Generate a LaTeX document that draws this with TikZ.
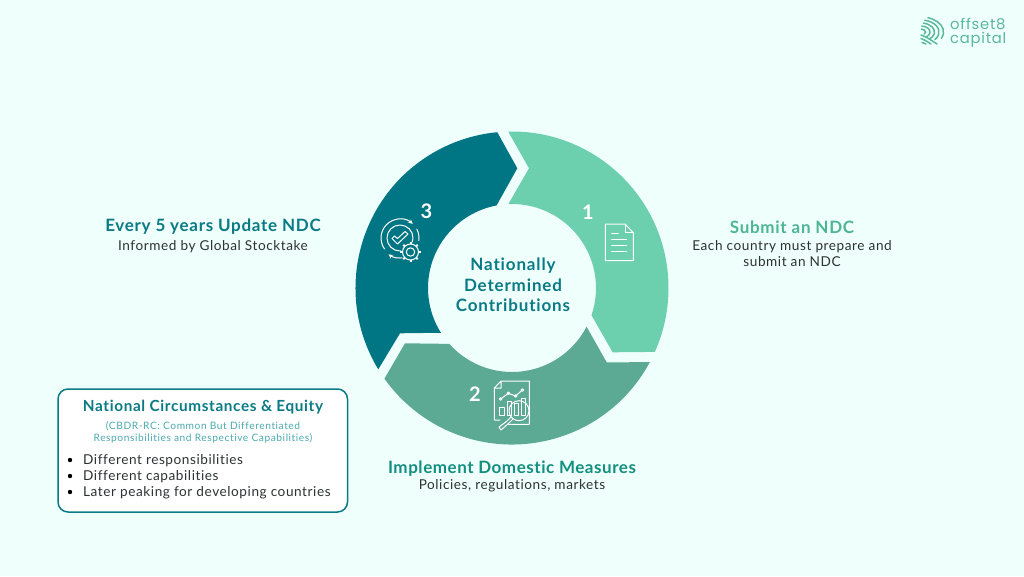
\documentclass[tikz,border=0pt]{standalone}
\usepackage{fontspec}
\setmainfont{Lato}
\newfontfamily\headfont[LetterSpace=4.2,Ligatures=NoCommon]{Lato}
\newfontfamily\implfont[LetterSpace=3.2,Ligatures=NoCommon]{Lato}
\newfontfamily\bodyfont[LetterSpace=4.2,Ligatures=NoCommon]{Lato}
\newfontfamily\ctrfont[LetterSpace=5.0,Ligatures=NoCommon]{Lato}
\newfontfamily\smallfont[LetterSpace=5.5,Ligatures=NoCommon]{Lato}
\newfontfamily\logofont[LetterSpace=5]{Poppins}
\definecolor{bgc}{RGB}{239,255,252}
\definecolor{darkteal}{RGB}{0,118,132}
\definecolor{lightgreen}{RGB}{108,207,173}
\definecolor{midgreen}{RGB}{92,169,148}
\definecolor{ttl}{RGB}{10,122,133}
\definecolor{subgreen}{RGB}{77,181,149}
\definecolor{impl}{RGB}{19,143,128}
\definecolor{bodyc}{RGB}{45,50,50}
\definecolor{cbdr}{RGB}{76,170,175}
\definecolor{logoc}{RGB}{90,184,156}
\tikzset{
  seg/.style={draw=none},
  icon/.style={draw=white,line width=1pt,fill=none,line join=round,line cap=round},
  head/.style={font=\headfont\fontsize{17}{20}\selectfont\bfseries,inner sep=0pt,anchor=center},
  bodytxt/.style={font=\bodyfont\fontsize{13.6}{16}\selectfont,text=bodyc,inner sep=0pt,anchor=center,align=center},
  num/.style={font=\fontsize{20}{20}\selectfont\bfseries,text=white,inner sep=0pt},
  logotxt/.style={font=\logofont\fontsize{14.8}{15}\selectfont,text=logoc,inner sep=0pt,anchor=base west},
  logoarc/.style={draw=logoc,line width=1.5pt,line cap=round},
}
\begin{document}
\begin{tikzpicture}[x=1pt,y=1pt]
\useasboundingbox (0,0) rectangle (1024,-576);
\fill[bgc] (0,0) rectangle (1024,-576);
% ring
\begin{scope}[shift={(512,-288)}]
\fill[darkteal,seg] (211.3:156.5) arc[start angle=211.3,end angle=95.4,radius=156.5pt] -- (5.3,119.7) -- (100.6:84) arc[start angle=100.6,end angle=212.2,radius=84pt] -- (-112,-45.3) -- cycle;
\fill[lightgreen,seg] (91.4:156.5) arc[start angle=91.4,end angle=-24.1,radius=156.5pt] -- (100.7,-64.3) -- (-18.9:84) arc[start angle=-18.9,end angle=92.5,radius=84pt] -- (17,119.7) -- cycle;
\fill[midgreen,seg] (-28.3:156.5) arc[start angle=-28.3,end angle=-144.6,radius=156.5pt] -- (-107,-55.3) -- (221.7:84) arc[start angle=221.7,end angle=332.6,radius=84pt] -- (94.7,-74.3) -- cycle;
\end{scope}
% centre
\node[font=\ctrfont\fontsize{17}{20.5}\selectfont\bfseries,text=ttl,align=center,inner sep=0pt] (centre) at (513,-285) {Nationally\\Determined\\Contributions};
% numbers
\node[num] (n3) at (426.5,-211) {3};
\node[num] (n1) at (588,-212) {1};
\node[num] (n2) at (475,-394) {2};
% doc icon
\draw[icon] (605.3,-224) -- (625,-224) -- (633.3,-232.7) -- (633.3,-260.7) -- (605.3,-260.7) -- cycle;
\draw[icon] (625,-224) -- (625,-232.7) -- (633.3,-232.7);
\draw[icon] (611.7,-233.3) -- (618.3,-233.3) (611.7,-239.3) -- (626.7,-239.3) (611.7,-245.3) -- (626.7,-245.3) (611.7,-251) -- (626.7,-251);
% gear check icon
\draw[icon] (400,-238) circle[radius=13pt];
\draw[icon] (392,-238.5) -- (397.5,-244) -- (408,-234) -- (405,-231.5) -- (397.5,-238.5) -- (394.5,-236) -- cycle;
\draw[icon,-stealth] (400,-238) ++(215:19) arc[start angle=215,end angle=48,radius=19pt];
\draw[icon] (400,-238) ++(28:19) arc[start angle=28,end angle=-8,radius=19pt];
\draw[icon,-stealth] (400,-238) ++(-78:20) arc[start angle=-78,end angle=-125,radius=20pt];
\fill[darkteal] (410.5,-252) circle[radius=10pt];
\draw[icon] (410.5,-252) circle[radius=4.2pt];
\draw[icon] (410.5,-252) circle[radius=8pt];
\foreach \a in {0,45,...,315} \draw[icon,line width=2pt,line cap=butt] (410.5,-252) ++(\a:8) -- ++(\a:2.2);
% chart icon
\draw[icon] (501,-381) -- (529.3,-381) -- (529.3,-424.3) -- (508,-424.3) (500,-420) -- (494.3,-420) -- (494.3,-388) -- (501,-381) -- (501,-388) -- (494.3,-388);
\draw[icon] (500.7,-399) -- (508.3,-393.3) -- (515.7,-396) -- (522.3,-390);
\draw[icon] (500.7,-399) circle[radius=1.3pt] (508.3,-393.3) circle[radius=1.3pt] (515.7,-396) circle[radius=1.3pt] (522.3,-390) circle[radius=1.3pt];
\draw[icon] (499.5,-407) rectangle (504,-415);
\draw[icon] (507,-401) rectangle (511.5,-415);
\draw[icon] (514,-403) rectangle (518.5,-415);
\draw[icon] (521,-398) rectangle (525.5,-415);
\draw[icon] (519,-410.7) circle[radius=10pt];
\draw[icon] (511,-417) -- (507,-421) -- (499,-427) -- (501,-430) -- (509,-423) -- (513,-419);
% side labels
\node[head,text=ttl] (t3) at (213,-227) {Every 5 years Update NDC};
\node[bodytxt] (b3) at (213,-247) {Informed by Global Stocktake};
\node[head,text=subgreen] (t1) at (792,-227) {Submit an NDC};
\node[bodytxt] (b1) at (792,-254) {Each country must prepare and\\submit an NDC};
\node[head,text=impl,font=\implfont\fontsize{17}{20}\selectfont\bfseries] (t2) at (512,-469) {Implement Domestic Measures};
\node[bodytxt] (b2) at (512,-486) {Policies, regulations, markets};
% box
\draw[draw=ttl,line width=1.5pt,fill=white,rounded corners=10pt] (58,-389) rectangle (347.5,-512);
\node[font=\headfont\fontsize{15.3}{18}\selectfont\bfseries,text=ttl,inner sep=0pt] (bt) at (203,-407) {National Circumstances \& Equity};
\node[font=\smallfont\fontsize{10.2}{12.4}\selectfont,text=cbdr,align=center,inner sep=0pt] (bs) at (203,-432.5) {(CBDR-RC: Common But Differentiated\\Responsibilities and Respective Capabilities)};
\fill[black] (70,-460) circle[radius=2.2pt] (70,-476) circle[radius=2.2pt] (70,-492) circle[radius=2.2pt];
\node[bodytxt,anchor=west] (l1) at (83,-461) {Different responsibilities};
\node[bodytxt,anchor=west] (l2) at (83,-477) {Different capabilities};
\node[bodytxt,anchor=west] (l3) at (83,-493) {Later peaking for developing countries};
% logo
\node[logotxt] (lg1) at (950,-29.5) {offset8};
\node[logotxt] (lg2) at (950,-43.5) {capital};
\foreach \r/\s/\e in {3/85/-45,6/85/-50,9/80/-50,12/78/-40,15/72/-25}
  \draw[logoarc] (921,-32) ++(\s:1.5*\r pt and \r pt) arc[start angle=\s,end angle=\e,x radius=1.5*\r pt,y radius=\r pt];
\draw[logoarc] (921,-35) .. controls (928,-37.5) and (932,-41) .. (937,-44);
\draw[logoarc] (921,-38.5) .. controls (925,-40) and (928,-42) .. (931,-44);
\draw[logoarc] (922,-42.5) -- (926,-44);
\end{tikzpicture}
\end{document}
